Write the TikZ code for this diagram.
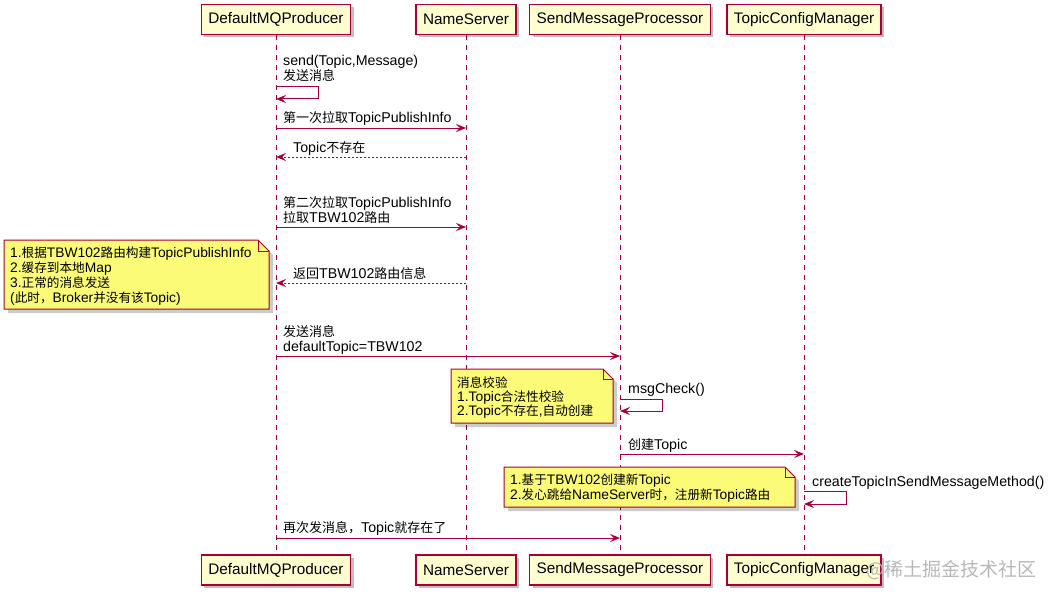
\documentclass[tikz,border=0pt]{standalone}
\usepackage{fontspec}
\setmainfont{Liberation Sans}
\newfontfamily\cjk[Scale=0.915]{Noto Sans CJK SC}
\newfontfamily\cjkwm{Noto Sans CJK SC}
\usetikzlibrary{arrows.meta,shadows}
\definecolor{pumlred}{HTML}{A80036}
\definecolor{partfill}{HTML}{FEFECE}
\definecolor{notefill}{HTML}{FBFB77}
\newcommand\zh[1]{{\cjk #1}}
\begin{document}
\begin{tikzpicture}[x=1pt,y=-1pt,
  part/.style={draw=pumlred, line width=1.5pt, fill=partfill, minimum height=30pt,
    inner xsep=7pt, inner ysep=0pt, font=\fontsize{15.3}{17}\selectfont,
    drop shadow={shadow xshift=3pt, shadow yshift=-3pt, opacity=0.25, fill=black}},
  lifeline/.style={draw=pumlred, line width=1pt, dash pattern=on 5pt off 5pt},
  msg/.style={draw=pumlred, line width=1pt, -{Stealth[length=10pt,width=8pt,inset=4pt]}},
  ret/.style={msg, dash pattern=on 2pt off 2pt},
  lbl/.style={anchor=base west, inner sep=0pt, font=\fontsize{14.2}{16}\selectfont},
  ntxt/.style={anchor=base west, inner sep=0pt, font=\fontsize{13.8}{16}\selectfont},
  note/.style={draw=pumlred, line width=1pt, fill=notefill},
  noteshadow/.style={fill=black, opacity=0.2},
]
\useasboundingbox[fill=white] (0,0) rectangle (1051,599);

% participants
\node[part] (P) at (276,19.5) {DefaultMQProducer};
\node[part] (N) at (466,19.5) {NameServer};
\node[part] (S) at (620,19.5) {SendMessageProcessor};
\node[part] (T) at (804,19.5) {TopicConfigManager};
\node[part] (P2) at (276,570) {DefaultMQProducer};
\node[part] (N2) at (466,570) {NameServer};
\node[part] (S2) at (620,570) {SendMessageProcessor};
\node[part] (T2) at (804,570) {TopicConfigManager};

% lifelines
\draw[lifeline] (P.south) -- (P2.north);
\draw[lifeline] (N.south) -- (N2.north);
\draw[lifeline] (S.south) -- (S2.north);
\draw[lifeline] (T.south) -- (T2.north);

% 1 self message
\node[lbl] (m1a) at (283,66) {send(Topic,Message)};
\node[lbl] (m1b) at (283,81) {\zh{发送消息}};
\draw[msg] (P |- 0,87) -- ++(42,0) -- ++(0,12) -- (P |- 0,99);

% 2
\node[lbl] (m2) at (283,123) {\zh{第一次拉取}TopicPublishInfo};
\draw[msg] (P |- 0,128) -- (N |- 0,128);

% 3
\node[lbl] (m3) at (293,152) {Topic\zh{不存在}};
\draw[ret] (N |- 0,157) -- (P |- 0,157);

% 4
\node[lbl] (m4a) at (283,207) {\zh{第二次拉取}TopicPublishInfo};
\node[lbl] (m4b) at (283,222) {\zh{拉取}TBW102\zh{路由}};
\draw[msg] (P |- 0,227) -- (N |- 0,227);

% 5
\node[lbl] (m5) at (293,278) {\zh{返回}TBW102\zh{路由信息}};
\draw[ret] (N |- 0,283) -- (P |- 0,283);

% 6
\node[lbl] (m6a) at (283,336) {\zh{发送消息}};
\node[lbl] (m6b) at (283,351) {defaultTopic=TBW102};
\draw[msg] (P |- 0,356) -- (S |- 0,356);

% 7 self message
\node[lbl] (m7) at (628,393) {msgCheck()};
\draw[msg] (S |- 0,399) -- ++(42,0) -- ++(0,12) -- (S |- 0,411);

% 8
\node[lbl] (m8) at (628,449) {\zh{创建}Topic};
\draw[msg] (S |- 0,454) -- (T |- 0,454);

% 9 self message
\node[lbl] (m9) at (812,486) {createTopicInSendMessageMethod()};
\draw[msg] (T |- 0,491) -- ++(42,0) -- ++(0,13) -- (T |- 0,504);

% 10
\node[lbl] (m10) at (283,532) {\zh{再次发消息，}Topic\zh{就存在了}};
\draw[msg] (P |- 0,538) -- (S |- 0,538);

% note 1
\fill[noteshadow] (8,244) -- (262,244) -- (273,255) -- (273,313) -- (8,313) -- cycle;
\path[note] (4,240) -- (258,240) -- (269,251) -- (269,309) -- (4,309) -- cycle;
\draw[pumlred, line width=1pt] (258,240) -- (258,251) -- (269,251);
\node[ntxt] (n1a) at (10,257) {1.\zh{根据}TBW102\zh{路由构建}TopicPublishInfo};
\node[ntxt] (n1b) at (10,272) {2.\zh{缓存到本地}Map};
\node[ntxt] (n1c) at (10,287) {3.\zh{正常的消息发送}};
\node[ntxt] (n1d) at (10,302) {(\zh{此时，}Broker\zh{并没有该}Topic)};

% note 2
\fill[noteshadow] (455,373) -- (607,373) -- (617,383) -- (617,427) -- (455,427) -- cycle;
\path[note] (451,369) -- (603,369) -- (613,379) -- (613,423) -- (451,423) -- cycle;
\draw[pumlred, line width=1pt] (603,369) -- (603,379) -- (613,379);
\node[ntxt] (n2a) at (457,387) {\zh{消息校验}};
\node[ntxt] (n2b) at (457,401) {1.Topic\zh{合法性校验}};
\node[ntxt] (n2c) at (457,415) {2.Topic\zh{不存在},\zh{自动创建}};

% note 3
\fill[noteshadow] (508,471) -- (789,471) -- (799,481) -- (799,511) -- (508,511) -- cycle;
\path[note] (504,467) -- (785,467) -- (795,477) -- (795,507) -- (504,507) -- cycle;
\draw[pumlred, line width=1pt] (785,467) -- (785,477) -- (795,477);
\node[ntxt] (n3a) at (510,484) {1.\zh{基于}TBW102\zh{创建新}Topic};
\node[ntxt] (n3b) at (510,499) {2.\zh{发心跳给}NameServer\zh{时，注册新}Topic\zh{路由}};

% watermark
\node[anchor=west, inner sep=0pt, text=black!28, font=\cjkwm\fontsize{19}{20}\selectfont] (wm) at (866,570) {@稀土掘金技术社区};
\end{tikzpicture}
\end{document}
